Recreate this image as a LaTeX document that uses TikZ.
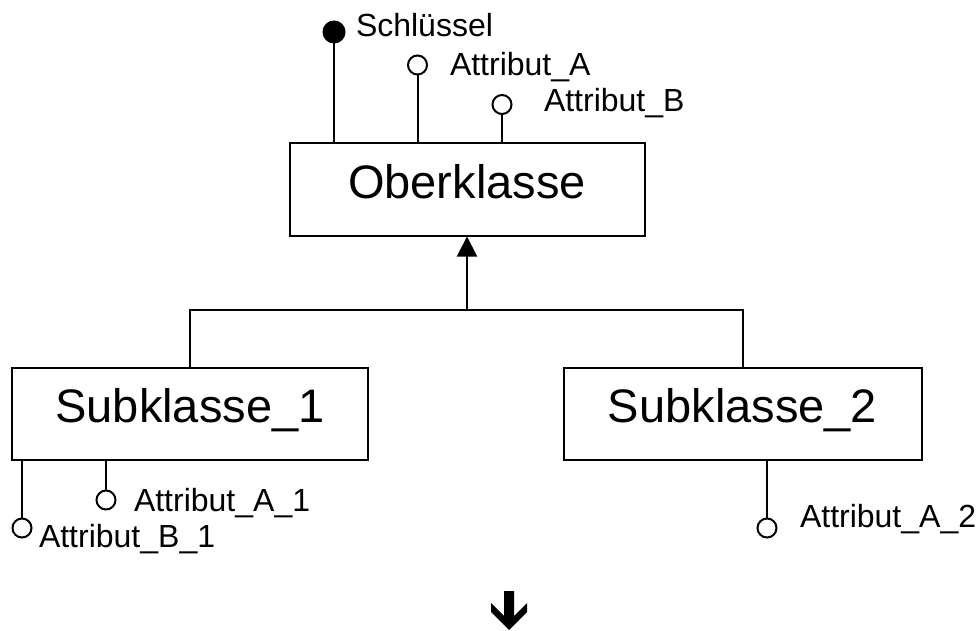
\documentclass[tikz,border=0pt]{standalone}
\usepackage{fontspec}
\setmainfont{Liberation Sans}
\usetikzlibrary{positioning,arrows.meta}

\begin{document}
\begin{tikzpicture}[
  x=1pt, y=-1pt,
  line width=2pt,
  klasse/.style  = {draw, rectangle, inner sep=0pt,
                    font=\fontsize{47}{56}\selectfont,
                    text height=33pt, text depth=16pt, minimum height=92pt},
  attr/.style    = {draw, circle, fill=white, minimum size=19pt, inner sep=0pt},
  schluessel/.style = {attr, fill=black, minimum size=21pt},
  lbl/.style     = {anchor=base west, inner sep=0pt,
                    font=\fontsize{32}{38}\selectfont},
  vererbung/.style = {-{Triangle[length=20pt, width=20pt]}},
]
\useasboundingbox (0,0) rectangle (979,631);

\node[klasse, minimum width=355pt] (ober) at (467,189.5) {Oberklasse};
\node[klasse, minimum width=356pt] (sub1) at (190,414) {Subklasse\_1};
\node[klasse, minimum width=358pt] (sub2) at (742.5,414) {Subklasse\_2};

\node[schluessel] (kS) at (334,32) {};
\node[attr] (aA)  at (417.5,65) {};
\node[attr] (aB)  at (502,104.5) {};
\node[attr] (aA1) at (106,500) {};
\node[attr] (aB1) at (22,528) {};
\node[attr] (aA2) at (767,528) {};

\node[lbl] (tS)  at (355,37)  {Schlüssel};
\node[lbl] (tA)  at (449,76)  {Attribut\_A};
\node[lbl] (tB)  at (543,112) {Attribut\_B};
\node[lbl] (tA1) at (133,511) {Attribut\_A\_1};
\node[lbl] (tB1) at (38,547)  {Attribut\_B\_1};
\node[lbl] (tA2) at (799,527) {Attribut\_A\_2};

\coordinate (gabel) at (467,310);

\draw (kS) -- (kS |- ober.north);
\draw (aA) -- (aA |- ober.north);
\draw (aB) -- (aB |- ober.north);
\draw (aA1) -- (aA1 |- sub1.south);
\draw (aB1) -- (aB1 |- sub1.south);
\draw (aA2) -- (aA2 |- sub2.south);

\draw (sub1.north) |- (gabel) -| (sub2.north);
\draw[vererbung] (gabel) -- (ober.south);

\fill (504,591) -- (514,591) -- (514,616) -- (527,603) -- (527,612)
  -- (509,630) -- (491,612) -- (491,603) -- (504,616) -- cycle;

\end{tikzpicture}
\end{document}
